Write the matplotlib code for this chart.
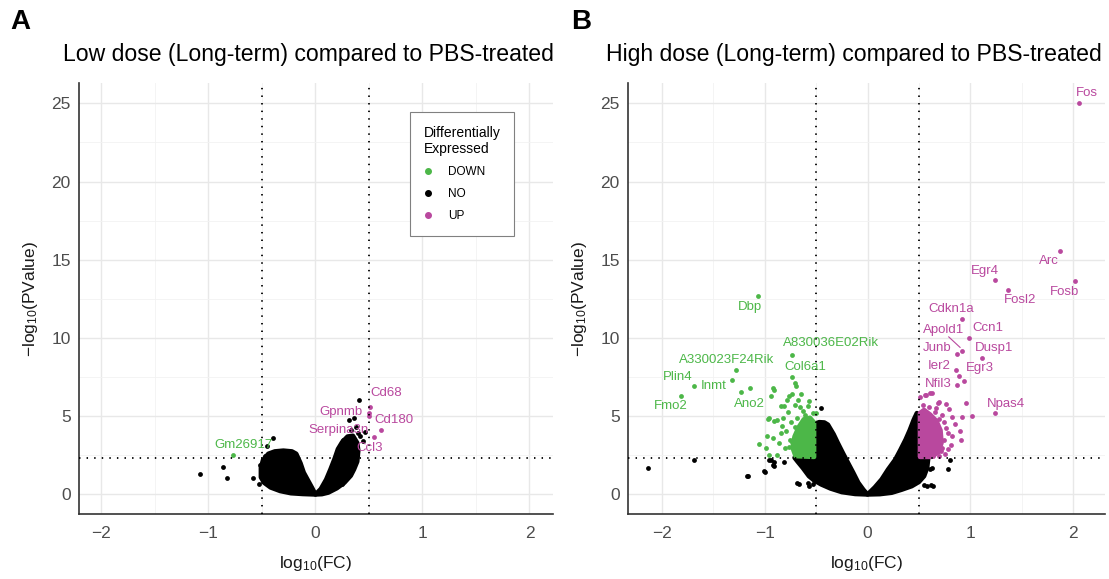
import matplotlib
matplotlib.use("Agg")
import matplotlib.pyplot as plt
from matplotlib.lines import Line2D

plt.rcParams['font.family'] = ['Liberation Sans', 'DejaVu Sans']
plt.rcParams['mathtext.fontset'] = 'custom'
plt.rcParams['mathtext.rm'] = 'Liberation Sans'
plt.rcParams['mathtext.default'] = 'regular'

GREEN = '#4cb748'
MAGENTA = '#b9489e'

##############################################################################
# Data
##############################################################################

# Panel A: outline of the dense non-significant cloud (two arms of the V)
a_left_x = [0.0, -0.12, -0.23, -0.33, -0.42, -0.48, -0.51, -0.51, -0.49, -0.44,
            -0.38, -0.30, -0.22, -0.18, -0.14, -0.11, -0.07, -0.03]
a_left_y = [0.0, 0.03, 0.08, 0.22, 0.45, 0.75, 1.1, 1.7, 2.2, 2.6,
            2.75, 2.8, 2.75, 2.6, 2.0, 1.4, 0.9, 0.4]
a_right_x = [0.0, 0.05, 0.10, 0.14, 0.18, 0.21, 0.25, 0.30, 0.35, 0.39,
             0.40, 0.39, 0.36, 0.33, 0.27, 0.20, 0.12, 0.06]
a_right_y = [0.0, 0.35, 0.95, 1.6, 2.3, 2.9, 3.35, 3.7, 3.75, 3.3,
             2.8, 2.1, 1.6, 1.2, 0.75, 0.4, 0.12, 0.02]
# Panel A: single black genes outside the cloud
a_no_x = [-1.08, -0.86, -0.83, -0.58, -0.53, -0.40, -0.45, -0.35, -0.52, -0.49,
          -0.47, 0.41, 0.31, 0.36, 0.26, 0.42, 0.44, 0.25, 0.38, 0.33, 0.46, 0.40]
a_no_y = [1.32, 1.77, 1.02, 1.06, 0.64, 3.61, 3.08, 2.76, 1.9, 1.45,
          2.45, 6.06, 4.78, 4.89, 3.51, 3.72, 3.4, 0.64, 4.3, 4.1, 4.0, 3.9]
a_up_genes = ['Cd68', 'Gpnmb', 'Serpina3n', 'Cd180', 'Ccl3']
a_up_x = [0.51, 0.50, 0.50, 0.61, 0.55]
a_up_y = [5.59, 5.21, 5.00, 4.10, 3.66]
a_down_genes = ['Gm26917']
a_down_x = [-0.77]
a_down_y = [2.55]

# Panel B: outline of the dense non-significant cloud
b_left_x = [0.0, -0.12, -0.25, -0.36, -0.45, -0.52, -0.57, -0.63, -0.68, -0.71,
            -0.50, -0.50, -0.47, -0.42, -0.385, -0.33, -0.29, -0.24, -0.19, -0.14,
            -0.09, -0.04]
b_left_y = [0.0, 0.03, 0.15, 0.38, 0.64, 0.9, 1.17, 1.7, 2.1, 2.35,
            2.35, 4.55, 4.62, 4.6, 4.46, 3.85, 3.3, 2.65, 2.02, 1.4,
            0.75, 0.3]
b_right_x = [0.0, 0.07, 0.137, 0.20, 0.27, 0.32, 0.37, 0.41, 0.45, 0.48,
             0.50, 0.50, 0.59, 0.58, 0.55, 0.50, 0.43, 0.33, 0.235, 0.12]
b_right_y = [0.0, 0.45, 0.96, 1.6, 2.23, 2.85, 3.5, 4.1, 4.78, 5.2,
             5.1, 2.35, 2.3, 1.7, 1.17, 0.8, 0.53, 0.3, 0.11, 0.02]
# Panel B: dense core of the significant genes
b_upcore_x = [0.51, 0.51, 0.55, 0.61, 0.67, 0.71, 0.72, 0.69, 0.62]
b_upcore_y = [2.4, 5.2, 5.4, 5.1, 4.7, 4.1, 3.3, 2.7, 2.4]
b_downcore_x = [-0.52, -0.52, -0.56, -0.62, -0.67, -0.71, -0.73, -0.70]
b_downcore_y = [2.4, 4.6, 4.9, 4.8, 4.3, 3.7, 3.0, 2.45]
# Panel B: single black genes outside the cloud
b_no_x = [-2.14, -1.69, -1.16, -1.00, -0.92, -0.81, -0.69, -0.58, -0.94, -0.96,
          -0.91, -0.91, -1.01, -1.17, -0.57, -0.45, -0.67, -0.53, 0.80, 0.78,
          0.63, 0.55, 0.62, 0.58, 0.64, 0.61]
b_no_y = [1.70, 2.23, 1.21, 1.45, 1.91, 2.06, 0.75, 0.75, 2.23, 2.23,
          2.1, 1.8, 1.49, 1.17, 0.53, 5.53, 0.68, 0.68, 2.23, 1.6,
          1.7, 0.62, 0.62, 0.53, 0.53, 1.6]
b_up_genes = ['Fos', 'Arc', 'Fosb', 'Egr4', 'Fosl2', 'Cdkn1a', 'Ccn1', 'Apold1',
              'Junb', 'Dusp1', 'Ier2', 'Egr3', 'Nfil3', 'Npas4']
b_up_x = [2.06, 1.87, 2.02, 1.24, 1.37, 0.92, 0.99, 0.92, 0.87, 1.11, 0.86, 0.89,
          0.87, 1.24]
b_up_y = [25.04, 15.58, 13.65, 13.70, 13.07, 11.20, 10.00, 9.20, 8.97, 8.72, 7.93,
          7.55, 7.00, 5.19]
b_up_other_x = [0.94, 0.51, 0.57, 0.61, 0.56, 0.63, 0.69, 0.70, 0.76, 0.79,
                0.96, 1.02, 0.92, 0.82, 0.90, 0.91, 0.81, 0.82, 0.76, 0.72,
                0.75, 0.70, 0.66, 0.60, 0.54, 0.74, 0.78, 0.52, 0.53, 0.55,
                0.72, 0.74, 0.71, 0.67, 0.78, 0.85, 0.64, 0.70]
b_up_other_y = [7.27, 6.23, 6.33, 6.48, 6.38, 6.48, 5.85, 5.91, 5.80, 5.47,
                5.85, 5.04, 4.95, 4.95, 4.04, 3.51, 3.19, 3.72, 4.25, 3.00,
                2.60, 2.45, 5.30, 5.60, 5.70, 4.60, 3.90, 2.5, 3.4, 4.4,
                5.05, 3.45, 2.75, 5.55, 2.9, 4.5, 2.45, 4.85]
b_down_genes = ['Dbp', 'A830036E02Rik', 'Col6a1', 'A330023F24Rik', 'Plin4',
                'Inmt', 'Fmo2', 'Ano2']
b_down_x = [-1.07, -0.73, -0.73, -1.28, -1.69, -1.32, -1.81, -1.23]
b_down_y = [12.71, 8.93, 7.50, 7.97, 6.91, 7.33, 6.31, 6.53]
b_down_other_x = [-1.14, -0.70, -1.06, -0.98, -0.97, -0.94, -0.91, -0.91, -0.96, -0.88,
                  -0.76, -0.71, -0.65, -0.68, -0.84, -0.57, -0.50, -0.86, -0.92, -0.78,
                  -0.81, -0.71, -0.58, -0.96, -0.88, -0.83, -0.99, -0.75, -0.66, -0.55,
                  -0.53, -0.61, -0.73, -0.92, -0.72, -0.76, -0.79, -0.74, -0.71, -0.80,
                  -0.84, -0.77, -0.63, -0.60, -0.69, -0.82, -0.73, -0.66]
b_down_other_y = [6.80, 6.95, 3.25, 3.72, 4.85, 6.27, 6.70, 4.68, 2.55, 2.55,
                  6.27, 7.12, 6.44, 6.06, 5.63, 5.95, 5.21, 3.30, 6.80, 6.06,
                  5.63, 5.74, 5.63, 4.89, 4.78, 4.36, 2.98, 3.50, 3.93, 4.57,
                  5.21, 5.10, 6.40, 3.61, 2.75, 3.05, 4.05, 4.65, 4.3, 2.95,
                  3.9, 5.3, 5.35, 4.85, 4.9, 4.9, 3.35, 5.6]

threshold_fc = 0.5
threshold_p = 2.3

# label offsets (layout only)
a_label_off = {'Cd68': (0.15, 0.89), 'Gpnmb': (-0.26, 0.04), 'Serpina3n': (-0.28, -0.85),
               'Cd180': (0.12, 0.64), 'Ccl3': (-0.04, -0.69), 'Gm26917': (0.10, 0.58)}
b_label_off = {'Fos': (0.07, 0.6), 'Arc': (-0.11, -0.68), 'Fosb': (-0.10, -0.68),
               'Egr4': (-0.10, 0.6), 'Fosl2': (0.11, -0.63), 'Cdkn1a': (-0.11, 0.64),
               'Ccn1': (0.18, 0.63), 'Apold1': (-0.18, 1.32), 'Junb': (-0.19, 0.38),
               'Dusp1': (0.12, 0.63), 'Ier2': (-0.16, 0.30), 'Egr3': (0.20, 0.51),
               'Nfil3': (-0.18, 0.08), 'Npas4': (0.11, 0.61),
               'Dbp': (-0.07, -0.71), 'A830036E02Rik': (0.37, 0.74), 'Col6a1': (0.12, 0.64),
               'A330023F24Rik': (-0.09, 0.64), 'Plin4': (-0.16, 0.59), 'Inmt': (-0.18, -0.38),
               'Fmo2': (-0.10, -0.68), 'Ano2': (0.08, -0.73)}

PT = 12
fig = plt.figure(figsize=(11.09, 5.79), dpi=100)
axA = fig.add_axes([79 / 1109, 65 / 579, 474 / 1109, 431 / 579])
axB = fig.add_axes([628 / 1109, 65 / 579, 477 / 1109, 431 / 579])


def cloud(ax, xs, ys, color):
    ax.fill(xs, ys, facecolor=color, edgecolor=color, linewidth=3.3,
            joinstyle='round', zorder=2)


def base(ax, xlim):
    ax.set_xlim(*xlim)
    ax.set_ylim(-1.25, 26.3)
    ax.set_xticks([-2, -1, 0, 1, 2])
    ax.set_xticks([-1.5, -0.5, 0.5, 1.5], minor=True)
    ax.set_yticks([0, 5, 10, 15, 20, 25])
    ax.set_yticks([2.5, 7.5, 12.5, 17.5, 22.5], minor=True)
    ax.grid(which='major', color='#e8e8e8', linewidth=1.0)
    ax.grid(which='minor', color='#f2f2f2', linewidth=0.6)
    ax.set_axisbelow(True)
    for s in ['top', 'right']:
        ax.spines[s].set_visible(False)
    for s in ['left', 'bottom']:
        ax.spines[s].set_color('#333333')
        ax.spines[s].set_linewidth(1.2)
    ax.tick_params(which='both', length=0, labelsize=12.5, labelcolor='#4d4d4d')
    ax.tick_params(axis='x', pad=9)
    ax.tick_params(axis='y', pad=6)
    ax.set_xlabel('log$_{10}$(FC)', fontsize=12.5, color='#1a1a1a', labelpad=9)
    ax.set_ylabel('\u2212log$_{10}$(PValue)', fontsize=12.5, color='#1a1a1a', labelpad=8)
    ax.axvline(-threshold_fc, color='black', lw=1.3, ls=(0, (0.8, 3.4)), zorder=5)
    ax.axvline(threshold_fc, color='black', lw=1.3, ls=(0, (0.8, 3.4)), zorder=5)
    ax.axhline(threshold_p, color='black', lw=1.3, ls=(0, (0.8, 3.4)), zorder=5)


def labels(ax, genes, xs, ys, offs, color):
    for g, x, y in zip(genes, xs, ys):
        dx, dy = offs[g]
        ax.text(x + dx, y + dy, g, color=color, fontsize=9.5, ha='center', va='center',
                zorder=6)
        if g == 'Apold1':
            ax.plot([x + dx + 0.05, x - 0.02], [y + dy - 0.45, y + 0.2], color=color,
                    lw=0.8, zorder=6)


# ---- Panel A
base(axA, (-2.21, 2.22))
cloud(axA, a_left_x, a_left_y, 'black')
cloud(axA, a_right_x, a_right_y, 'black')
axA.scatter(a_no_x, a_no_y, s=PT, color='black', lw=0, zorder=3)
axA.scatter(a_up_x, a_up_y, s=PT, color=MAGENTA, lw=0, zorder=4)
axA.scatter(a_down_x, a_down_y, s=PT, color=GREEN, lw=0, zorder=4)
labels(axA, a_up_genes, a_up_x, a_up_y, a_label_off, MAGENTA)
labels(axA, a_down_genes, a_down_x, a_down_y, a_label_off, GREEN)

handles = [Line2D([], [], marker='o', ls='', color=c, ms=4) for c in [GREEN, 'black', MAGENTA]]
leg = axA.legend(handles, ['DOWN', 'NO', 'UP'], title='Differentially\nExpressed',
                 loc='upper left', bbox_to_anchor=(0.698, 0.932), fontsize=8.5,
                 title_fontsize=10, alignment='left', frameon=True, fancybox=False,
                 edgecolor='#808080', framealpha=1, labelspacing=0.85, handlelength=0.8,
                 handletextpad=1.3, borderpad=1.15, borderaxespad=0)
leg.get_frame().set_linewidth(0.8)
leg.set_zorder(10)

# ---- Panel B
base(axB, (-2.33, 2.31))
cloud(axB, b_left_x, b_left_y, 'black')
cloud(axB, b_right_x, b_right_y, 'black')
axB.scatter(b_no_x, b_no_y, s=PT, color='black', lw=0, zorder=3)
cloud(axB, b_upcore_x, b_upcore_y, MAGENTA)
cloud(axB, b_downcore_x, b_downcore_y, GREEN)
axB.scatter(b_up_x + b_up_other_x, b_up_y + b_up_other_y, s=PT, color=MAGENTA, lw=0, zorder=4)
axB.scatter(b_down_x + b_down_other_x, b_down_y + b_down_other_y, s=PT, color=GREEN, lw=0,
            zorder=4)
labels(axB, b_up_genes, b_up_x, b_up_y, b_label_off, MAGENTA)
labels(axB, b_down_genes, b_down_x, b_down_y, b_label_off, GREEN)

# titles and panel letters
fig.text(63 / 1109, 1 - 55 / 579, 'Low dose (Long-term) compared to PBS-treated',
         fontsize=16.6, va='center', ha='left')
fig.text(606 / 1109, 1 - 55 / 579, 'High dose (Long-term) compared to PBS-treated',
         fontsize=16.6, va='center', ha='left')
fig.text(10 / 1109, 1 - 22 / 579, 'A', fontsize=20, fontweight='bold', va='center')
fig.text(571 / 1109, 1 - 22 / 579, 'B', fontsize=20, fontweight='bold', va='center')

fig.savefig('out.png', dpi=100)
